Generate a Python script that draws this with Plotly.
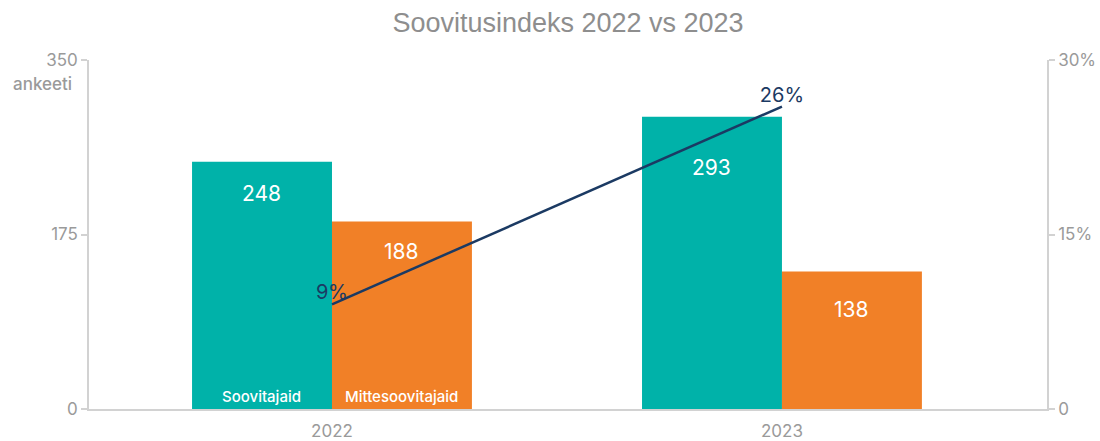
import plotly.graph_objects as go

# Survey responses per year
years = ["2022", "2023"]
soovitajaid = [248, 293]
mittesoovitajaid = [188, 138]
soovitusindeks = [9, 26]  # %

series_names = ["Soovitajaid", "Mittesoovitajaid"]

TEAL = "#00b2a9"
ORANGE = "#f18027"
NAVY = "#1b3a63"
GREY_TXT = "#9a9a9a"
AXIS = "#d2d2d2"
LABEL_FONT = "Inter, Lato, sans-serif"

fig = go.Figure()

fig.add_trace(go.Bar(
    x=years, y=soovitajaid, name=series_names[0],
    marker=dict(color=TEAL, line=dict(width=0)),
    hoverinfo="x+y+name",
))
fig.add_trace(go.Bar(
    x=years, y=mittesoovitajaid, name=series_names[1],
    marker=dict(color=ORANGE, line=dict(width=0)),
    hoverinfo="x+y+name",
))
fig.add_trace(go.Scatter(
    x=years, y=soovitusindeks, yaxis="y2", mode="lines+text",
    line=dict(color=NAVY, width=2.5),
    text=[f"{v}%" for v in soovitusindeks],
    textposition="top center",
    textfont=dict(family=LABEL_FONT, size=20, color=NAVY),
    name="Soovitusindeks",
))

annotations = []
# value labels near the top of each bar (category index used as x position)
shift_teal = [-32, -51]
shift_orange = [-30, -38]
for i in range(len(years)):
    annotations.append(dict(
        x=i, y=soovitajaid[i], xref="x", yref="y", xshift=-70, yshift=shift_teal[i],
        text=str(soovitajaid[i]), showarrow=False,
        font=dict(family=LABEL_FONT, size=21, color="white"),
    ))
    annotations.append(dict(
        x=i, y=mittesoovitajaid[i], xref="x", yref="y", xshift=70, yshift=shift_orange[i],
        text=str(mittesoovitajaid[i]), showarrow=False,
        font=dict(family=LABEL_FONT, size=21, color="white"),
    ))

# series names written at the base of the first group
for name, dx in zip(series_names, [-70, 70]):
    annotations.append(dict(
        x=0, y=0, xref="x", yref="y", xshift=dx, yshift=13,
        text=name, showarrow=False,
        font=dict(family=LABEL_FONT, size=15, color="white", weight=500),
    ))

# left axis unit
annotations.append(dict(
    x=0, y=350, xref="paper", yref="y", xanchor="right", yanchor="top",
    xshift=-15, yshift=-12, text="ankeeti", showarrow=False,
    font=dict(family=LABEL_FONT, size=17, color=GREY_TXT, weight=500),
))

fig.update_layout(
    width=1100, height=441,
    margin=dict(l=89, r=53, t=60, b=32, autoexpand=False),
    paper_bgcolor="white", plot_bgcolor="white",
    showlegend=False,
    barmode="group", bargap=0.378, bargroupgap=0,
    title=dict(
        text="Soovitusindeks 2022 vs 2023",
        x=0.5, xref="paper", xanchor="center",
        y=0.95, yref="container", yanchor="middle",
        font=dict(family="Liberation Sans, Arial, sans-serif", size=27, color="#8e8e8e"),
    ),
    xaxis=dict(
        type="category", range=[-0.54, 1.589], automargin=False,
        showline=True, linecolor=AXIS, linewidth=1.5,
        ticks="", showgrid=False, ticklabelstandoff=6,
        tickfont=dict(family=LABEL_FONT, size=17, color=GREY_TXT),
    ),
    yaxis=dict(
        range=[0, 350], tickvals=[0, 175, 350], automargin=False,
        showline=True, linecolor=AXIS, linewidth=1.5,
        ticks="outside", ticklen=6, tickcolor=AXIS, tickwidth=1.5,
        showgrid=False, zeroline=False,
        tickfont=dict(family=LABEL_FONT, size=17, color=GREY_TXT),
    ),
    yaxis2=dict(
        overlaying="y", side="right", automargin=False,
        range=[0, 30], tickvals=[0, 15, 30], ticktext=["0", "15%", "30%"],
        showline=True, linecolor=AXIS, linewidth=1.5,
        ticks="outside", ticklen=6, tickcolor=AXIS, tickwidth=1.5,
        showgrid=False, zeroline=False,
        tickfont=dict(family=LABEL_FONT, size=17, color=GREY_TXT),
    ),
    annotations=annotations,
)

fig.write_html("out.html")
